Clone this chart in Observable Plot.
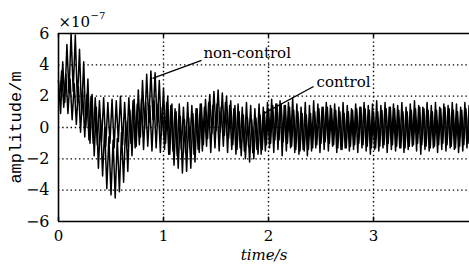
<!DOCTYPE html>
<html>
<head>
<meta charset="utf-8">
<script src="https://cdn.jsdelivr.net/npm/d3@7"></script>
<script src="https://cdn.jsdelivr.net/npm/@observablehq/plot@0.6"></script>
<style>
  html, body { margin: 0; padding: 0; background: #fff; }
  #chart { width: 469px; height: 265px; }
  #chart text { font-family: 'DejaVu Serif', serif !important; }
  #chart text.ylab { font-family: 'Liberation Mono', monospace !important; }
</style>
</head>
<body>
<div id="chart"></div>
<script>
// Sampling step of the recorded signals (s)
const sampleStep = 0.02;

// Non-control response: successive peak values (×10^-7 m), one every 0.02 s from t = 0
const nonControl = [
  3.0, 0.9, 4.2, 1.6, 5.3, 2.2, 6.0, 2.3, 5.9, 1.6,
  5.0, 0.8, 4.2, 0.0, 3.1, -1.0, 2.1, -1.8, 1.3, -2.6,
  0.5, -3.1, 0.0, -3.9, -0.6, -4.3, -0.8, -4.5, -0.7, -4.1,
  -0.3, -3.5, 0.4, -2.8, 1.1, -1.8, 1.8, -1.2, 2.4, -0.6,
  3.0, -0.1, 3.4, 0.3, 3.6, 0.5, 3.5, 0.1, 3.0, -0.5,
  2.5, -1.0, 2.0, -1.7, 1.5, -2.4, 1.0, -2.6, 0.7, -2.9,
  0.5, -2.8, 0.6, -2.6, 0.9, -2.2, 1.2, -1.6, 1.5, -1.1,
  1.8, -0.7, 2.1, -0.4, 2.3, -0.2, 2.4, -0.3, 2.2, -0.5,
  2.0, -0.7, 1.7, -1.1, 1.4, -1.4, 1.0, -1.8, 0.8, -2.0,
  0.6, -2.2, 0.5, -2.0, 0.6, -1.7, 0.8, -1.4, 1.0, -1.1,
  1.2, -1.0, 1.4, -0.8, 1.5, -0.8, 1.5, -0.9, 1.4, -1.0,
  1.3, -1.2, 1.1, -1.4, 1.0, -1.5, 0.9, -1.5, 0.8, -1.4,
  0.9, -1.3, 1.0, -1.1, 1.2, -1.0, 1.3, -0.9, 1.3, -1.0,
  1.2, -1.1, 1.1, -1.3, 1.0, -1.4, 0.9, -1.3, 1.0, -1.2,
  1.1, -1.1, 1.2, -1.0, 1.3, -1.1, 1.2, -1.2, 1.1, -1.3,
  1.0, -1.3, 1.0, -1.2, 1.1, -1.1, 1.2, -1.0, 1.3, -1.1,
  1.2, -1.2, 1.1, -1.3, 1.0, -1.3, 1.0, -1.2, 1.1, -1.1,
  1.2, -1.0, 1.3, -1.1, 1.2, -1.2, 1.1, -1.3, 1.0, -1.2,
  1.1, -1.1, 1.2, -1.0, 1.3, -1.1, 1.2, -1.2, 1.1, -1.3,
  1.0, -1.2, 1.1, -1.1, 1.2, -1.0, 1.2
];

// Control response: successive peak values (×10^-7 m), one every 0.02 s
const control = [
  1.8, 3.6, 1.3, 3.4, 0.9, 3.1, 0.5, 2.8, 0.2, 2.6,
  -0.3, 2.3, -0.6, 2.1, -0.8, 2.0, -1.0, 1.9, -1.1, 1.7,
  -0.9, 1.9, -1.2, 1.6, -1.0, 1.8, -1.3, 1.7, -0.9, 2.0,
  -1.1, 1.6, -1.2, 1.9, -1.0, 1.7, -1.3, 1.5, -1.1, 1.8,
  -1.4, 1.6, -1.2, 1.4, -1.5, 1.7, -1.3, 1.5, -1.6, 1.3,
  -1.4, 1.6, -1.7, 1.4, -1.5, 1.2, -1.8, 1.5, -1.4, 1.3,
  -1.6, 1.6, -1.3, 1.4, -1.7, 1.2, -1.4, 1.5, -1.5, 1.3,
  -1.2, 1.6, -1.6, 1.4, -1.3, 1.5, -1.5, 1.3, -1.2, 1.6,
  -1.6, 1.4, -1.4, 1.2, -1.7, 1.5, -1.3, 1.3, -1.5, 1.6,
  -1.2, 1.4, -1.6, 1.2, -1.4, 1.5, -1.7, 1.3, -1.5, 1.6,
  -1.3, 1.8, -1.6, 1.5, -1.4, 1.7, -1.8, 1.4, -1.5, 1.6,
  -1.3, 1.9, -1.6, 1.5, -1.7, 1.3, -1.4, 1.6, -1.8, 1.4,
  -1.5, 1.7, -1.3, 1.5, -1.6, 1.3, -1.4, 1.6, -1.5, 1.4,
  -1.2, 1.5, -1.6, 1.3, -1.4, 1.6, -1.3, 1.4, -1.5, 1.2,
  -1.4, 1.5, -1.6, 1.3, -1.3, 1.6, -1.5, 1.4, -1.7, 1.5,
  -1.4, 1.7, -1.5, 1.4, -1.3, 1.6, -1.6, 1.3, -1.4, 1.5,
  -1.5, 1.4, -1.3, 1.6, -1.6, 1.3, -1.4, 1.5, -1.2, 1.7,
  -1.5, 1.4, -1.7, 1.3, -1.4, 1.6, -1.5, 1.4, -1.3, 1.6,
  -1.6, 1.3, -1.4, 1.5, -1.5, 1.4, -1.3, 1.6, -1.4, 1.5,
  -1.6, 1.3, -1.5, 1.6, -1.3, 1.4, -1.4
];

// Axes
const xDomain = [0, 3.914];
const yDomain = [-6, 6];
const xTicks = [0, 1, 2, 3];
const yTicks = [-6, -4, -2, 0, 2, 4, 6];
const xGrid = [1, 2, 3];
const yGrid = [-4, -2, 0, 2, 4];

// Text
const xLabel = "time/s";
const yLabel = "amplitude/m";
const exponentBase = "×10";
const exponent = "−7";

// Annotations: label, label anchor (t, value), leader start (t, value), leader end (t, value)
const annotations = [
  {label: "non-control", t: 1.38, v: 4.72, t1: 0.895, v1: 3.13, t2: 1.362, v2: 4.28},
  {label: "control", t: 2.457, v: 2.87, t1: 1.952, v1: 0.89, t2: 2.429, v2: 2.62}
];

const ncData = nonControl.map((v, i) => ({t: i * sampleStep, v}));
const cData = control.map((v, i) => ({t: i * sampleStep + sampleStep / 2, v}));

const chart = Plot.plot({
  width: 469,
  height: 265,
  marginLeft: 58,
  marginRight: 0,
  marginTop: 33,
  marginBottom: 44,
  style: {fontSize: "15px", color: "#000", background: "#fff", overflow: "visible"},
  x: {domain: xDomain},
  y: {domain: yDomain},
  marks: [
    // dotted grid
    Plot.ruleX(xGrid, {stroke: "#000", strokeWidth: 1.4, strokeDasharray: "1.4,2.8"}),
    Plot.ruleY(yGrid, {x1: xDomain[0], x2: xDomain[1], stroke: "#000", strokeWidth: 1.4, strokeDasharray: "1.4,2.8"}),
    // signals
    Plot.line(ncData, {x: "t", y: "v", stroke: "#000", strokeWidth: 1.5}),
    Plot.line(cData, {x: "t", y: "v", stroke: "#000", strokeWidth: 1.5}),
    // frame (top, left, bottom)
    Plot.ruleY([yDomain[1]], {x1: xDomain[0], x2: xDomain[1], stroke: "#000", strokeWidth: 1.6}),
    Plot.ruleY([yDomain[0]], {x1: xDomain[0], x2: xDomain[1], stroke: "#000", strokeWidth: 1.6}),
    Plot.ruleX([xDomain[0]], {y1: yDomain[0], y2: yDomain[1], stroke: "#000", strokeWidth: 1.6}),
    // inward tick marks
    Plot.ruleX(xTicks, {y1: yDomain[0], y2: yDomain[0] + 0.28, stroke: "#000", strokeWidth: 1.4}),
    Plot.ruleX(xTicks, {y1: yDomain[1], y2: yDomain[1] - 0.28, stroke: "#000", strokeWidth: 1.4}),
    // axis labels
    Plot.axisX(xTicks, {anchor: "bottom", tickSize: 0, tickPadding: 9, fontSize: 15, label: null, tickFormat: d => String(d)}),
    Plot.axisY(yTicks, {anchor: "left", tickSize: 0, tickPadding: 9, fontSize: 16, label: null}),
    // annotation leaders and texts
    Plot.link(annotations, {x1: "t1", y1: "v1", x2: "t2", y2: "v2", stroke: "#000", strokeWidth: 1.3}),
    Plot.text(annotations, {x: "t", y: "v", text: "label", textAnchor: "start", fontSize: 15}),
    // titles
    Plot.text([xLabel], {frameAnchor: "bottom", text: d => d, dy: 38, fontStyle: "italic", fontSize: 15, textAnchor: "middle"}),
    Plot.text([yLabel], {frameAnchor: "left", text: d => d, dx: -43, rotate: -90, fontSize: 17, textAnchor: "middle"}),
    Plot.text([exponentBase], {frameAnchor: "top-left", text: d => d, textAnchor: "start", lineAnchor: "bottom", dy: -7, dx: 0, fontSize: 15}),
    Plot.text([exponent], {frameAnchor: "top-left", text: d => d, textAnchor: "start", lineAnchor: "bottom", dy: -15, dx: 32, fontSize: 10})
  ]
});
// tag the vertical axis title so it takes the typewriter face
d3.select(chart).selectAll("text").filter(function () { return this.textContent === yLabel; }).classed("ylab", true);
document.getElementById("chart").appendChild(chart);
</script>
</body>
</html>
